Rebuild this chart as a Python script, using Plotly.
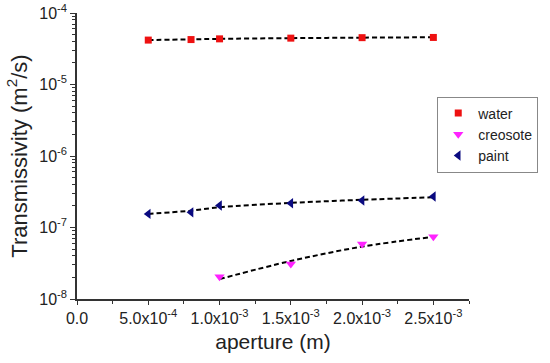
import plotly.graph_objects as go

# ---- data ----
aperture = [5e-4, 8e-4, 1e-3, 1.5e-3, 2e-3, 2.5e-3]
water = [4.18e-5, 4.25e-5, 4.35e-5, 4.45e-5, 4.52e-5, 4.55e-5]
paint = [1.55e-7, 1.63e-7, 2.03e-7, 2.18e-7, 2.38e-7, 2.71e-7]
creosote_aperture = [1e-3, 1.5e-3, 2e-3, 2.5e-3]
creosote = [2.05e-8, 3.09e-8, 5.89e-8, 7.45e-8]

# dashed fit curves
water_fit = [4.18e-5, 4.28e-5, 4.35e-5, 4.45e-5, 4.52e-5, 4.58e-5]
paint_fit = [1.55e-7, 1.72e-7, 1.92e-7, 2.21e-7, 2.44e-7, 2.65e-7]
creosote_fit = [1.9e-8, 3.4e-8, 5.4e-8, 7.4e-8]

x_tickvals = [0, 5e-4, 1e-3, 1.5e-3, 2e-3, 2.5e-3]
x_ticktext = ["0.0", "5.0x10<sup>-4</sup>", "1.0x10<sup>-3</sup>", "1.5x10<sup>-3</sup>",
              "2.0x10<sup>-3</sup>", "2.5x10<sup>-3</sup>"]
y_exponents = [-8, -7, -6, -5, -4]

FONT = "Liberation Sans, Arial, sans-serif"

fig = go.Figure()

fit_style = dict(color="black", width=2, dash="5px,3px", shape="spline")
fig.add_trace(go.Scatter(x=aperture, y=water_fit, mode="lines", line=fit_style,
                         showlegend=False, hoverinfo="skip"))
fig.add_trace(go.Scatter(x=aperture, y=paint_fit, mode="lines", line=fit_style,
                         showlegend=False, hoverinfo="skip"))
fig.add_trace(go.Scatter(x=creosote_aperture, y=creosote_fit, mode="lines", line=fit_style,
                         showlegend=False, hoverinfo="skip"))

fig.add_trace(go.Scatter(x=aperture, y=water, mode="markers", name="water",
                         marker=dict(symbol="square", size=7, color="#ee1111")))
fig.add_trace(go.Scatter(x=creosote_aperture, y=creosote, mode="markers", name="creosote",
                         marker=dict(symbol="triangle-down", size=9, color="#ff22ff")))
fig.add_trace(go.Scatter(x=aperture, y=paint, mode="markers", name="paint",
                         marker=dict(symbol="triangle-left", size=9, color="#0a0a80")))

y_tickvals = [10.0 ** e for e in y_exponents]
y_ticktext = ["10<sup>%d</sup>" % e for e in y_exponents]
y_minor = [m * 10.0 ** e for e in y_exponents[:-1] for m in range(2, 10)]

fig.update_layout(
    width=550, height=363,
    margin=dict(l=77, r=79, t=13, b=64),
    paper_bgcolor="white", plot_bgcolor="white",
    font=dict(family=FONT, color="#222222", size=15),
    legend=dict(x=0.919, y=0.708, xanchor="left", yanchor="top",
                bordercolor="#888888", borderwidth=1, bgcolor="white",
                font=dict(size=14), itemwidth=30,
                traceorder="normal"),
)

fig.update_xaxes(
    range=[0, 2.75e-3], automargin=False,
    tickmode="array", tickvals=x_tickvals, ticktext=x_ticktext,
    ticks="outside", ticklen=4, tickwidth=1, tickcolor="#333333",
    minor=dict(tickmode="array", tickvals=[2.5e-4, 7.5e-4, 1.25e-3, 1.75e-3, 2.25e-3, 2.75e-3],
               ticks="outside", ticklen=3, tickcolor="#333333", showgrid=False),
    showline=True, linecolor="#333333", linewidth=1.5,
    showgrid=False, zeroline=False,
    tickfont=dict(size=16),
    title=dict(text="aperture (m)", font=dict(size=21), standoff=8),
)

fig.update_yaxes(
    type="log", range=[-8, -4], automargin=False,
    tickmode="array", tickvals=y_tickvals, ticktext=y_ticktext,
    ticks="outside", ticklen=5, tickwidth=1, tickcolor="#333333",
    minor=dict(tickmode="array", tickvals=y_minor, ticks="outside", ticklen=3,
               tickcolor="#333333", showgrid=False),
    showline=True, linecolor="#333333", linewidth=1.5,
    showgrid=False, zeroline=False,
    tickfont=dict(size=16),
    title=dict(text="Transmissivity (m<sup>2</sup>/s)", font=dict(size=22), standoff=6),
)

fig.write_html("out.html", config={"displayModeBar": False},
               post_script="document.body.style.margin='0';")
